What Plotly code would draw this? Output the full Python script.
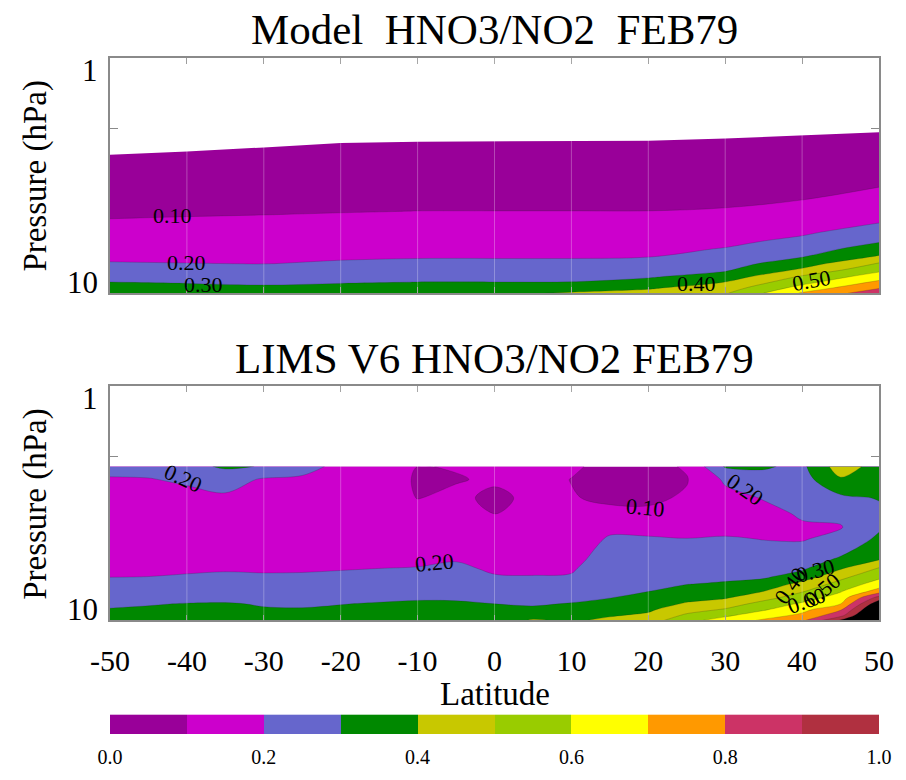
import math
import plotly.graph_objects as go

# ---------------- data ----------------
lat_ticks = [-50, -40, -30, -20, -10, 0, 10, 20, 30, 40, 50]
levels = [0.1, 0.2, 0.3, 0.4, 0.5, 0.6, 0.7, 0.8, 0.9, 1.0]
bar_ticks = [0.0, 0.2, 0.4, 0.6, 0.8, 1.0]

# fill colours for the bands 0.0-0.1 ... 0.9-1.0, and above 1.0
band_colors = ["#990099", "#cc00cc", "#6666cc", "#008800", "#c8c800",
               "#99cc00", "#ffff00", "#ff9900", "#cc3366", "#b03040"]
over_color = "#000000"

# Model HNO3/NO2 ratio (rows: pressure, columns: latitude)
model_lat = [-50, -40, -30, -20, -10, 0, 10, 20, 30, 40, 50]
model_p = [2.0, 2.5, 3.0, 3.5, 4.0, 4.5, 5.0, 5.5, 6.0, 6.5, 7.0, 7.5, 8.0, 8.5, 9.0, 9.5, 10.0]
model_top_p = [2.58, 2.50, 2.40, 2.30, 2.27, 2.26, 2.255, 2.25, 2.20, 2.14, 2.07]
model_ratio = [
    [.010, .010, .010, .012, .013, .013, .013, .013, .014, .015, .020],
    [.020, .020, .020, .022, .025, .025, .025, .025, .027, .030, .040],
    [.037, .039, .040, .042, .045, .045, .045, .045, .048, .054, .067],
    [.054, .057, .058, .062, .065, .065, .065, .065, .068, .077, .097],
    [.071, .075, .077, .081, .084, .084, .084, .084, .087, .099, .130],
    [.088, .092, .095, .098, .101, .101, .101, .101, .106, .127, .163],
    [.106, .109, .111, .116, .120, .120, .120, .121, .131, .157, .197],
    [.126, .127, .128, .135, .138, .138, .138, .140, .155, .186, .242],
    [.145, .146, .146, .153, .157, .157, .157, .159, .180, .220, .290],
    [.165, .164, .164, .171, .175, .175, .175, .178, .205, .258, .346],
    [.184, .183, .182, .189, .194, .194, .194, .198, .234, .296, .411],
    [.206, .202, .199, .211, .218, .218, .218, .227, .263, .353, .513],
    [.238, .233, .228, .239, .246, .246, .246, .258, .291, .421, .580],
    [.270, .263, .256, .267, .274, .274, .274, .289, .343, .511, .651],
    [.302, .294, .285, .294, .302, .302, .303, .335, .403, .569, .724],
    [.331, .327, .316, .327, .336, .341, .357, .389, .449, .638, .792],
    [.360, .360, .350, .360, .370, .380, .410, .430, .490, .710, .860],
]

# LIMS V6 HNO3/NO2 ratio, one list per latitude (pressure from top to bottom)
lims_lat = [-50, -45, -40, -35, -30, -25, -20, -15, -10, -5, 0, 5, 10, 15, 20, 25, 30, 35, 40, 45, 50]
lims_p = [2.2, 2.5, 3.0, 3.5, 4.0, 4.5, 5.0, 5.5, 6.0, 6.5, 7.0, 7.5, 8.0, 8.5, 9.0, 9.5, 10.0]
lims_columns = [
    [.22, .195, .175, .165, .16, .16, .165, .175, .185, .198, .22, .245, .265, .285, .305, .32, .335],
    [.225, .197, .175, .165, .16, .16, .165, .175, .188, .20, .22, .245, .27, .295, .31, .325, .34],
    [.27, .21, .18, .165, .16, .16, .167, .178, .19, .205, .225, .25, .275, .303, .32, .335, .345],
    [.315, .24, .185, .17, .163, .163, .17, .18, .193, .21, .23, .255, .28, .305, .32, .335, .345],
    [.295, .19, .17, .16, .155, .155, .16, .17, .19, .208, .225, .25, .275, .295, .305, .32, .335],
    [.235, .185, .165, .155, .15, .15, .155, .165, .19, .21, .218, .245, .27, .29, .305, .318, .33],
    [.175, .165, .155, .15, .145, .145, .15, .165, .195, .215, .235, .255, .275, .298, .31, .325, .335],
    [.15, .14, .135, .135, .135, .14, .15, .17, .20, .22, .24, .26, .285, .305, .32, .33, .34],
    [.10, .092, .098, .12, .13, .14, .155, .178, .205, .225, .245, .265, .292, .31, .325, .335, .345],
    [.105, .095, .115, .13, .14, .15, .17, .195, .215, .235, .25, .27, .29, .31, .325, .335, .345],
    [.13, .11, .085, .098, .12, .14, .157, .172, .188, .205, .225, .245, .27, .30, .32, .335, .345],
    [.14, .135, .115, .12, .14, .15, .16, .172, .188, .202, .22, .24, .262, .29, .318, .36, .41],
    [.115, .098, .105, .12, .135, .15, .165, .178, .192, .205, .22, .245, .275, .305, .33, .35, .385],
    [.07, .065, .085, .12, .18, .21, .225, .235, .245, .255, .268, .283, .298, .325, .355, .39, .42],
    [.07, .068, .085, .115, .17, .21, .228, .24, .25, .262, .278, .298, .325, .355, .385, .415, .45],
    [.11, .095, .11, .13, .16, .203, .225, .24, .255, .275, .298, .33, .37, .41, .46, .515, .57],
    [.31, .215, .17, .15, .17, .21, .23, .245, .26, .28, .31, .35, .39, .45, .51, .58, .64],
    [.31, .27, .205, .175, .17, .198, .22, .24, .26, .285, .34, .398, .465, .535, .59, .65, .715],
    [.28, .26, .235, .21, .19, .195, .22, .25, .285, .345, .43, .49, .55, .615, .67, .72, .78],
    [.45, .39, .28, .22, .195, .225, .27, .315, .39, .47, .535, .59, .645, .698, .79, .86, 1.01],
    [.36, .335, .305, .28, .285, .32, .36, .395, .51, .575, .645, .74, .94, 1.08, 1.16, 1.24, 1.30],
]
lims_ratio = [list(row) for row in zip(*lims_columns)]

# contour labels: (level, latitude, pressure, angle)
model_labels = [(0.1, -41.9, 4.68, 0), (0.2, -40.0, 7.4, 0), (0.3, -37.8, 9.15, 0),
                (0.4, 26.3, 9.1, 0), (0.5, 41.2, 8.8, -10)]
lims_labels = [(0.2, -40.4, 2.47, 25), (0.1, 19.6, 3.29, 5), (0.2, 32.6, 2.75, 35),
               (0.2, -7.8, 5.66, -5), (0.3, 41.8, 6.1, -15), (0.4, 38.5, 7.1, -55),
               (0.5, 42.7, 7.35, -40), (0.6, 40.6, 8.2, -20)]

# ---------------- layout geometry ----------------
W, H = 906, 780
ML, MR, MT, MB = 110, 16, 58, 32
PH = H - MT - MB
PW = W - ML - MR


def py(px):
    """pixel row -> paper y"""
    return (H - MB - px) / PH


def pxx(px):
    """pixel column -> paper x"""
    return (px - ML) / PW


FONT = "Liberation Serif, Times New Roman, serif"
AXC = "#8a8a8a"

# stepped colour scale: 11 colours evaluated at fractions 0, 0.1, ... 1.0
fill_colors = band_colors + [over_color]
fill_scale = []
n = len(fill_colors)
for i, c in enumerate(fill_colors):
    lo = max(0.0, (i - 0.5) / (n - 1))
    hi = min(1.0, (i + 0.5) / (n - 1))
    fill_scale += [[lo, c], [hi, c]]

bar_scale = []
for i, c in enumerate(band_colors):
    bar_scale += [[i / len(band_colors), c], [(i + 1) / len(band_colors), c]]

contour_style = dict(
    autocontour=False,
    contours=dict(start=levels[0], end=levels[-1], size=levels[1] - levels[0],
                  coloring="fill", showlines=True),
    line=dict(width=0.5, color="rgba(30,30,30,0.4)"),
    colorscale=fill_scale,
    showscale=False,
    hoverinfo="skip",
)

fig = go.Figure()
fig.add_trace(go.Contour(x=model_lat, y=model_p, z=model_ratio,
                         xaxis="x", yaxis="y", **contour_style))
# blank out the levels above the top of the model domain
fig.add_trace(go.Scatter(
    x=model_lat + [model_lat[-1], model_lat[0]],
    y=model_top_p + [1.0, 1.0],
    fill="toself", fillcolor="white", mode="lines",
    line=dict(width=0, color="white"), hoverinfo="skip", showlegend=False,
    xaxis="x", yaxis="y"))
fig.add_trace(go.Contour(x=lims_lat, y=lims_p, z=lims_ratio,
                         xaxis="x2", yaxis="y2", **contour_style))

# colour bar as its own strip of cells
bar_centers = [round((a + b) / 2, 3) for a, b in zip([0.0] + levels[:-1], levels)]
fig.add_trace(go.Heatmap(x=bar_centers, y=[0], z=[bar_centers], zmin=0, zmax=1,
                         colorscale=bar_scale, showscale=False, hoverinfo="skip",
                         xaxis="x3", yaxis="y3"))

xcommon = dict(range=[-50, 50], tickvals=lat_ticks, ticks="inside", ticklen=6,
               tickcolor=AXC, showline=True, linecolor=AXC, linewidth=1.5,
               mirror="ticks", showgrid=False, zeroline=False, layer="above traces")
ycommon = dict(type="log", range=[1, 0], tickvals=[1, 10], ticks="inside", ticklen=17,
               tickcolor=AXC, showticklabels=False, showline=True, linecolor=AXC,
               linewidth=1.5, mirror="ticks", showgrid=False, zeroline=False,
               layer="above traces",
               minor=dict(tickvals=[2], ticks="inside", ticklen=8, tickcolor=AXC))

fig.update_layout(
    width=W, height=H,
    margin=dict(l=ML, r=MR, t=MT, b=MB),
    paper_bgcolor="white", plot_bgcolor="white",
    showlegend=False,
    font=dict(family=FONT, color="black"),
    xaxis=dict(domain=[0, 1], anchor="y", showticklabels=False, **xcommon),
    yaxis=dict(domain=[py(298), py(58)], anchor="x", **ycommon),
    xaxis2=dict(domain=[0, 1], anchor="y2", showticklabels=True,
                ticktext=[str(v) for v in lat_ticks], tickfont=dict(size=30),
                ticklabelstandoff=13, **xcommon),
    yaxis2=dict(domain=[py(632), py(393)], anchor="x2", **ycommon),
    xaxis3=dict(domain=[0, 1], anchor="y3", range=[0, 1], tickvals=bar_ticks,
                ticktext=[f"{v:.1f}" for v in bar_ticks], ticks="", showline=False,
                showgrid=False, zeroline=False, tickfont=dict(size=20),
                ticklabelstandoff=9),
    yaxis3=dict(domain=[0, py(728)], anchor="x3", visible=False, range=[-0.5, 0.5]),
)

# faint meridian lines across the filled areas
for yref in ("y domain", "y2 domain"):
    xr = "x" if yref.startswith("y ") else "x2"
    for lat in lat_ticks[1:-1]:
        fig.add_shape(type="line", xref=xr, yref=yref, x0=lat, x1=lat, y0=0, y1=1,
                      line=dict(color="rgba(255,255,255,0.28)", width=1), layer="above")

ann = []
ann.append(dict(text="Model  HNO3/NO2  FEB79", x=0.5, y=py(29), xref="paper", yref="paper",
                showarrow=False, font=dict(size=43), xanchor="center", yanchor="middle"))
ann.append(dict(text="LIMS V6 HNO3/NO2 FEB79", x=0.5, y=py(365), xref="paper", yref="paper",
                showarrow=False, font=dict(size=43), xanchor="center", yanchor="middle"))
for ycen in (178, 513):
    ann.append(dict(text="Pressure (hPa)", x=pxx(35), y=py(ycen), xref="paper", yref="paper",
                    textangle=-90, showarrow=False, font=dict(size=33),
                    xanchor="center", yanchor="middle"))
ann.append(dict(text="Latitude", x=0.5, y=py(707), xref="paper", yref="paper",
                showarrow=False, font=dict(size=33), xanchor="center", yanchor="middle"))
# pressure tick labels
for yr in ("y", "y2"):
    ann.append(dict(text="1", x=0, xshift=-10, y=0, yshift=-12, xref="paper", yref=yr,
                    showarrow=False, font=dict(size=31), xanchor="right", yanchor="middle"))
    ann.append(dict(text="10", x=0, xshift=-10, y=1, yshift=11, xref="paper", yref=yr,
                    showarrow=False, font=dict(size=31), xanchor="right", yanchor="middle"))
# contour labels
for labels, xr, yr in ((model_labels, "x", "y"), (lims_labels, "x2", "y2")):
    for lvl, lat, p, ang in labels:
        ann.append(dict(text=f"{lvl:.2f}", x=lat, y=math.log10(p), xref=xr, yref=yr,
                        textangle=ang, showarrow=False, font=dict(size=22),
                        xanchor="center", yanchor="middle"))
fig.update_layout(annotations=ann)

fig.write_html("out.html")
